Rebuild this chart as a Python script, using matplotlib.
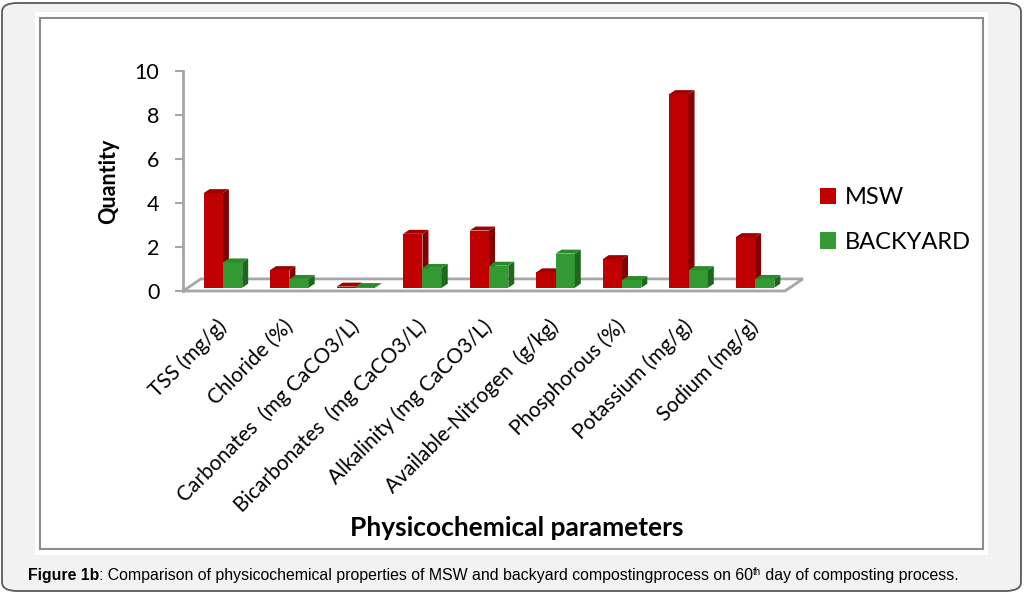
import matplotlib
matplotlib.use('Agg')
import matplotlib.pyplot as plt
from matplotlib.patches import Polygon, Rectangle, FancyBboxPatch
from matplotlib.transforms import ScaledTranslation

# data
categories = ['TSS (mg/g)', 'Chloride (%)', 'Carbonates  (mg CaCO3/L)',
              'Bicarbonates  (mg CaCO3/L)', 'Alkalinity (mg CaCO3/L)',
              'Available-Nitrogen  (g/kg)', 'Phosphorous (%)',
              'Potassium (mg/g)', 'Sodium (mg/g)']
msw = [4.3, 0.8, 0.05, 2.45, 2.6, 0.7, 1.3, 8.8, 2.3]
backyard = [1.15, 0.4, 0.03, 0.9, 1.0, 1.55, 0.35, 0.8, 0.4]
series_names = ['MSW', 'BACKYARD']

plt.rcParams['font.family'] = ['Lato', 'DejaVu Sans']
W, H = 1024, 593
fig = plt.figure(figsize=(W / 100, H / 100), dpi=100, facecolor='white')

def fx(x):
    return x / W

def fy(y):
    return 1 - y / H

# outer frame, white panel, inner chart border (behind the axes)
fig.patches.append(FancyBboxPatch((fx(2), fy(591)), fx(1019), 588 / H,
                                  boxstyle='round,pad=0,rounding_size=0.015',
                                  transform=fig.transFigure, facecolor='#f2f2f2',
                                  edgecolor='#5a5a5a', lw=1.3, zorder=-3))
fig.patches.append(Rectangle((fx(35), fy(555)), fx(953), 543 / H,
                             transform=fig.transFigure, facecolor='white',
                             edgecolor='none', zorder=-2))
fig.patches.append(Rectangle((fx(40), fy(549)), fx(943), 531 / H,
                             transform=fig.transFigure, facecolor='none',
                             edgecolor='#8c8c8c', lw=1.5, zorder=-1))

# plot area
x_lo, x_hi = -0.6, 8.45
ax = fig.add_axes([fx(183), fy(291), fx(785 - 183), (291 - 71) / H])
ax.set_xlim(x_lo, x_hi)
ax.set_ylim(0, 10)
ax.set_facecolor('none')

depth_x, depth_y = 0.27, 0.55      # floor depth
bdx, bdy = 0.09, 0.18              # bar depth
base = 0.15
bw = 0.29

floor = Polygon([(x_lo, 0), (x_hi, 0), (x_hi + depth_x, depth_y),
                 (x_lo + depth_x, depth_y)], closed=True, facecolor='white',
                edgecolor='#a6a6a6', lw=2, clip_on=False, zorder=1)
ax.add_patch(floor)

xs = list(range(len(categories)))
colors = [('#c00000', '#800000', '#a00000'), ('#339933', '#1f661f', '#2b8a2b')]
offsets = [-bw, 0]
containers = []
for vals, off, (cf, cs, ct), name in zip([msw, backyard], offsets, colors, series_names):
    bars = ax.bar([x + off for x in xs], vals, width=bw, bottom=base, align='edge',
                  color=cf, edgecolor='none', label=name, zorder=3, clip_on=False)
    containers.append(bars)

# side and top faces computed from the bars, msw first, then backyard on top
z = 3
for i in range(len(categories)):
    for bars, (cf, cs, ct) in zip(containers, colors):
        r = bars[i]
        x0, y0, w, h = r.get_x(), r.get_y(), r.get_width(), r.get_height()
        r.set_zorder(z)
        side = Polygon([(x0 + w, y0), (x0 + w + bdx, y0 + bdy),
                        (x0 + w + bdx, y0 + h + bdy), (x0 + w, y0 + h)],
                       closed=True, facecolor=cs, edgecolor='none', zorder=z, clip_on=False)
        top = Polygon([(x0, y0 + h), (x0 + bdx, y0 + h + bdy),
                       (x0 + w + bdx, y0 + h + bdy), (x0 + w, y0 + h)],
                      closed=True, facecolor=ct, edgecolor='none', zorder=z, clip_on=False)
        ax.add_patch(side)
        ax.add_patch(top)
        z += 1

for s in ['top', 'right', 'bottom']:
    ax.spines[s].set_visible(False)
ax.spines['left'].set_color('#a6a6a6')
ax.spines['left'].set_linewidth(2)
ax.set_yticks(range(0, 11, 2))
ax.tick_params(axis='y', direction='out', length=6, width=1.5, color='#a6a6a6',
               labelsize=15.5, pad=11, labelcolor='black')
ax.set_xticks(xs)
ax.set_xticklabels(categories, rotation=45, ha='right', va='top',
                   rotation_mode='anchor', fontsize=15)
ax.tick_params(axis='x', length=0, pad=20)
shift = ScaledTranslation(-7 / 100, 3 / 100, fig.dpi_scale_trans)
for lbl in ax.get_xticklabels():
    lbl.set_transform(lbl.get_transform() + shift)

ax.set_ylabel('Quantity', fontsize=15.5, fontweight='bold', labelpad=11)
fig.text(fx(517), fy(528), 'Physicochemical parameters', fontsize=19,
         fontweight='bold', ha='center', va='center')

fig.legend(handles=containers, labels=series_names, loc='upper left',
           bbox_to_anchor=(fx(799), fy(166)), frameon=False, fontsize=17,
           handlelength=0.68, handleheight=0.68, handletextpad=0.35,
           labelspacing=1.0)

# caption, placed piece by piece
renderer = fig.canvas.get_renderer()
cap_font = ['Liberation Sans', 'DejaVu Sans']
pieces = [('Figure 1b', 'bold', 11.4, 0),
          (': Comparison of physicochemical properties of MSW and backyard '
           'compostingprocess on 60', 'normal', 11.4, 0),
          ('th', 'normal', 7, 5),
          (' day of composting process.', 'normal', 11.4, 0)]
cx = 28
for txt, weight, size, rise in pieces:
    t = fig.text(fx(cx), fy(580 - rise), txt, fontsize=size, fontweight=weight,
                 family=cap_font, ha='left', va='baseline')
    cx += t.get_window_extent(renderer).width

fig.savefig('out.png', dpi=100, facecolor='white')
